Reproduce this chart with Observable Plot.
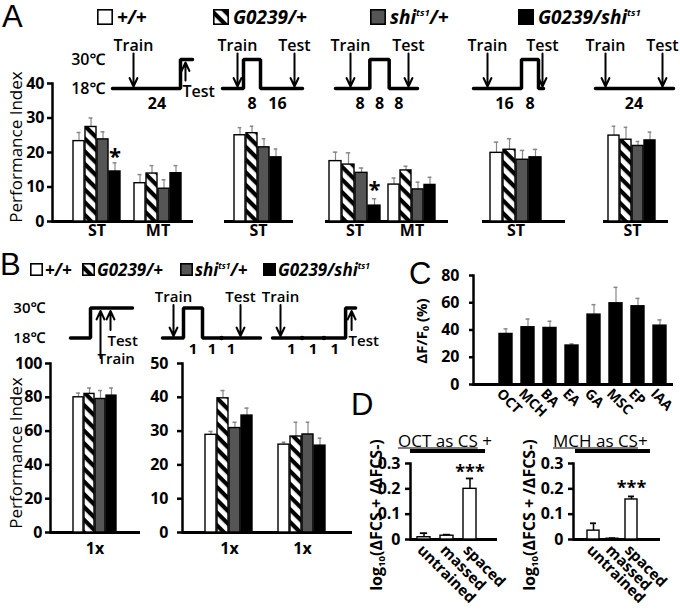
<!DOCTYPE html>
<html>
<head>
<meta charset="utf-8">
<script src="https://cdn.jsdelivr.net/npm/d3@7"></script>
<script src="https://cdn.jsdelivr.net/npm/@observablehq/plot@0.6"></script>
<style>
html,body{margin:0;padding:0;background:#fff;}
#fig{position:relative;width:680px;height:610px;overflow:hidden;background:#fff;color:#000;}
#fig svg.layer{position:absolute;left:0;top:0;background:transparent!important;overflow:visible;}
.lbl{position:absolute;white-space:nowrap;line-height:1;color:#000;}
.lbl sup{font-size:0.5em;vertical-align:0.8em;line-height:0;}
.lbl sub{font-size:0.6em;vertical-align:-0.3em;line-height:0;}
</style>
</head>
<body>
<div id="fig">
<svg width="0" height="0" style="position:absolute">
  <defs>
    <pattern id="hatch" patternUnits="userSpaceOnUse" width="9" height="9" patternTransform="rotate(45)">
      <rect width="9" height="9" fill="#fff"/>
      <rect width="9" height="4.2" fill="#000"/>
    </pattern>
  </defs>
</svg>
</div>
<script>
// ================= DATA =================
const genotypes = ["+/+", "G0239/+", "shi/+", "G0239/shi"];
const genotypeLabels = ["+/+", "G0239/+", "shi<sup>ts1</sup>/+", "G0239/shi<sup>ts1</sup>"];
const genotypeFills = ["#ffffff", "url(#hatch)", "#555555", "#000000"];
const temps = [18, 30];

// Panel A: performance index (mean, SEM)
const A1_ST = [23.3, 27.4, 23.8, 14.5], A1_ST_sem = [2.5, 2.6, 2.2, 2.5], A1_ST_sig = ["", "", "", "*"];
const A1_MT = [11.1, 13.9, 9.5, 14.0], A1_MT_sem = [2.5, 2.3, 2.6, 2.2];
const A2_ST = [25.0, 25.6, 21.5, 18.6], A2_ST_sem = [2.2, 2.0, 2.5, 2.4];
const A3_ST = [17.5, 16.5, 14.1, 4.6], A3_ST_sem = [2.6, 3.4, 1.4, 2.0], A3_ST_sig = ["", "", "", "*"];
const A3_MT = [10.7, 14.8, 9.3, 10.6], A3_MT_sem = [1.9, 1.2, 2.1, 2.2];
const A4_ST = [19.9, 20.8, 17.9, 18.6], A4_ST_sem = [3.1, 3.2, 2.7, 2.3];
const A5_ST = [24.9, 23.7, 21.9, 23.5], A5_ST_sem = [2.7, 3.6, 1.3, 2.4];
const aTicks = [0, 10, 20, 30, 40];

// Panel A protocols: phases after training [hours, °C]
const A1_phases = [[24, 18]], A1_train = 18, A1_test = 30;
const A2_phases = [[8, 30], [16, 18]], A2_train = 18, A2_test = 18;
const A3_phases = [[8, 18], [8, 30], [8, 18]], A3_train = 18, A3_test = 18;
const A4_phases = [[16, 18], [8, 30]], A4_train = 18, A4_test = 18;
const A5_phases = [[24, 18]], A5_train = 18, A5_test = 18;

// Panel B
const B1_1x = [80, 82, 79, 81], B1_sem = [2.5, 3.5, 5.0, 4.5];
const B2_1x = [28.9, 39.7, 30.9, 34.6], B2_sem = [1.0, 2.3, 1.7, 2.2];
const B3_1x = [26.0, 28.4, 29.0, 25.7], B3_sem = [0.7, 4.2, 3.6, 2.2];
const b1Ticks = [0, 20, 40, 60, 80, 100];
const b2Ticks = [0, 10, 20, 30, 40, 50];
const B1_phases = [], B1_train = 30, B1_test = 30;
const B2_phases = [[1, 30], [1, 18], [1, 18]], B2_train = 18, B2_test = 18;
const B3_phases = [[1, 18], [1, 18], [1, 18]], B3_train = 18, B3_test = 30;

// Panel C
const odors = ["OCT", "MCH", "BA", "EA", "GA", "MSC", "EP", "IAA"];
const cResp = [37.1, 42.0, 41.5, 28.6, 51.3, 59.6, 57.4, 43.2];
const cSem = [3.7, 6.0, 4.9, 1.2, 7.3, 11.7, 5.8, 4.2];
const cTicks = [0, 20, 40, 60, 80];

// Panel D
const conditions = ["untrained", "massed", "spaced"];
const dOCT = [0.009, 0.015, 0.200], dOCT_sem = [0.016, 0.004, 0.041], dOCT_sig = ["", "", "***"];
const dMCH = [0.035, 0.003, 0.158], dMCH_sem = [0.029, 0.002, 0.012], dMCH_sig = ["", "", "***"];
const dTicks = [0, 0.1, 0.2, 0.3];

// ================= HELPERS =================
const FONT = '"Open Sans","Noto Sans","DejaVu Sans",sans-serif';
const W = 680, H = 610;
const fig = document.getElementById("fig");
const fillOf = Object.fromEntries(genotypes.map((g, i) => [g, genotypeFills[i]]));

function overlay(frame, opts, style = {}) {
  const svg = Plot.plot({
    width: W, height: H,
    marginLeft: frame.x0, marginRight: W - frame.x1,
    marginTop: frame.y0, marginBottom: H - frame.y1,
    style: Object.assign({background: "transparent", overflow: "visible", fontFamily: FONT,
      fontSize: "16px", fontWeight: "bold", color: "#000"}, style),
    ...opts
  });
  svg.classList.add("layer");
  fig.appendChild(svg);
  return svg;
}

function rowsOf(cats, means, sems, sigs) {
  return cats.map((c, i) => ({cat: c, mean: means[i], sem: sems[i], sig: sigs ? sigs[i] : ""}));
}

function axes({x0, x1, yBottom, yTop, max, ticks, size = 5, gap = 8}) {
  overlay({x0, x1, y0: yTop, y1: yBottom}, {
    x: {domain: [0, 1], axis: null},
    y: ticks
      ? {domain: [0, max], ticks, tickSize: size, tickPadding: gap - size, line: true, label: null, tickFormat: d => String(d)}
      : {domain: [0, max], axis: null},
    marks: [Plot.ruleY([0], {strokeWidth: 3})]
  }, {strokeWidth: "2.5px"});
}

function bars(rows, o) {
  const {x0, x1, yBottom, yTop, max, pi = 0.08, fill, strokeWidth = 1.4,
         errColor = "#888", errWidth = 1.2, capHalf = 2.2, label, labelDy = 9,
         sigSize = 22, sigDy = -6, xLabels} = o;
  const n = rows.length;
  const step = (x1 - x0) / (n - pi);
  const bw = step * (1 - pi);
  const inset = Math.max(0, bw / 2 - capHalf);
  const marks = [
    Plot.ruleX(rows, {x: "cat", y1: "mean", y2: d => d.mean + d.sem, stroke: errColor, strokeWidth: errWidth}),
    Plot.tickY(rows, {x: "cat", y: d => d.mean + d.sem, stroke: errColor, strokeWidth: errWidth + 0.3, insetLeft: inset, insetRight: inset}),
    Plot.barY(rows, {x: "cat", y: "mean", fill: typeof fill === "function" ? fill : () => fill, stroke: "black", strokeWidth}),
    Plot.text(rows.filter(d => d.sig), {x: "cat", y: d => d.mean + d.sem, text: "sig", dy: sigDy, fontSize: sigSize, lineAnchor: "middle"})
  ];
  if (label) marks.push(Plot.text([label], {text: d => d, frameAnchor: "bottom", dy: labelDy, lineAnchor: "middle", fontSize: 16}));
  if (xLabels) marks.push(Plot.text(rows, {x: "cat", text: "cat", frameAnchor: "bottom", rotate: 45,
    textAnchor: "start", lineAnchor: "top", fontSize: 15, ...xLabels}));
  overlay({x0, x1, y0: yTop, y1: yBottom}, {
    x: {domain: rows.map(d => d.cat), paddingInner: pi, paddingOuter: 0, axis: null},
    y: {domain: [0, max], axis: null},
    color: {type: "identity"},
    marks
  });
}

function schematic(phases, trainTemp, testTemp, L, S) {
  const total = d3.sum(phases, p => p[0]);
  const tMin = -L.lead / L.pxh, tMax = total + L.tail / L.pxh;
  const profile = [{t: tMin, temp: 18}];
  let c = 0;
  for (const [h, temp] of phases) { profile.push({t: c, temp}); c += h; }
  profile.push({t: total, temp: testTemp}, {t: tMax, temp: testTemp});
  const durs = []; c = 0;
  for (const [h] of phases) { durs.push({t: c + h / 2, h}); c += h; }
  const dots = []; c = 0;
  phases.forEach(([h, temp], i) => { c += h; if (i < phases.length - 1 && phases[i + 1][1] === temp) dots.push({t: c, temp}); });
  const events = [
    {name: "Train", t: 0, temp: trainTemp, dx: L.dxTrain || 0},
    {name: "Test", t: total, temp: testTemp, dx: L.dxTest || 0}
  ];
  const marks = [Plot.line(profile, {x: "t", y: "temp", curve: "step-after", strokeWidth: 3.5, strokeLinejoin: "miter"})];
  for (const e of events) {
    if (e.temp === 18) {
      marks.push(Plot.arrow([e], {x1: "t", x2: "t", y1: () => 30, y2: () => 18, dx: e.dx,
        insetStart: -S.arrowTop, insetEnd: 2, strokeWidth: 2, headLength: 7, headAngle: 50}));
      marks.push(Plot.text([e], {x: "t", y: () => 30, text: "name", dx: e.dx, dy: S.labelAbove, lineAnchor: "middle"}));
    } else {
      const isTrain = e.name === "Train";
      marks.push(Plot.arrow([e], {x1: "t", x2: "t", y1: () => 18, y2: () => 30, dx: e.dx,
        insetStart: isTrain ? -20 : 8, insetEnd: 3, strokeWidth: 2, headLength: 7, headAngle: 50}));
      marks.push(Plot.text([e], {x: "t", y: () => 18, text: "name", dx: e.dx - 3, dy: isTrain ? 21 : 3,
        textAnchor: "start", lineAnchor: "middle"}));
    }
  }
  marks.push(Plot.dot(dots, {x: "t", y: "temp", r: 2.3, fill: "black"}));
  marks.push(Plot.text(durs, {x: "t", y: () => 18, text: d => String(d.h), dy: S.numDy, lineAnchor: "middle", fontWeight: "bold"}));
  overlay({x0: L.t0 - L.lead, x1: L.t0 + total * L.pxh + L.tail, y0: S.y30, y1: S.y18}, {
    x: {domain: [tMin, tMax], axis: null},
    y: L.axis
      ? {domain: [18, 30], ticks: temps, tickFormat: d => `${d}℃`, tickSize: 0, tickPadding: L.axisPad, label: null}
      : {domain: [18, 30], axis: null},
    marks
  }, {fontWeight: "600", fontSize: S.fontSize + "px"});
}

function label(html, x, y, o = {}) {
  const d = document.createElement("div");
  d.className = "lbl";
  d.innerHTML = html;
  const ax = o.anchor === "middle" ? "-50%" : o.anchor === "end" ? "-100%" : "0";
  d.style.left = x + "px";
  d.style.top = y + "px";
  d.style.fontFamily = o.family || FONT;
  d.style.fontSize = (o.size || 15) + "px";
  d.style.fontWeight = o.weight || "bold";
  d.style.fontStyle = o.italic ? "italic" : "normal";
  d.style.transform = o.rotate ? `translate(-50%,-50%) rotate(${o.rotate}deg)` : `translate(${ax},-50%)`;
  fig.appendChild(d);
  return d;
}

function swatch(x, y, size, fill) {
  const d = document.createElement("div");
  d.className = "lbl";
  d.style.left = x + "px"; d.style.top = y + "px";
  d.innerHTML = `<svg width="${size}" height="${size}" style="display:block"><rect x="0.8" y="0.8" width="${size - 1.6}" height="${size - 1.6}" fill="${fill}" stroke="#000" stroke-width="1.6"/></svg>`;
  fig.appendChild(d);
}

// ================= PANEL A =================
const A = {yBottom: 221, yTop: 83, max: 40};
axes({x0: 52, x1: 193, ...A, ticks: aTicks});
axes({x0: 224, x1: 293, ...A});
axes({x0: 325, x1: 448, ...A});
axes({x0: 482, x1: 565, ...A});
axes({x0: 603, x1: 668, ...A});
const gf = d => fillOf[d.cat];
bars(rowsOf(genotypes, A1_ST, A1_ST_sem, A1_ST_sig), {x0: 72, x1: 121, ...A, fill: gf, label: "ST"});
bars(rowsOf(genotypes, A1_MT, A1_MT_sem), {x0: 133, x1: 182, ...A, fill: gf, label: "MT"});
bars(rowsOf(genotypes, A2_ST, A2_ST_sem), {x0: 233, x1: 283, ...A, fill: gf, label: "ST"});
bars(rowsOf(genotypes, A3_ST, A3_ST_sem, A3_ST_sig), {x0: 329, x1: 380, ...A, fill: gf, label: "ST", sigDy: -9});
bars(rowsOf(genotypes, A3_MT, A3_MT_sem), {x0: 387, x1: 436, ...A, fill: gf, label: "MT"});
bars(rowsOf(genotypes, A4_ST, A4_ST_sem), {x0: 490, x1: 541, ...A, fill: gf, label: "ST"});
bars(rowsOf(genotypes, A5_ST, A5_ST_sem), {x0: 607, x1: 657, ...A, fill: gf, label: "ST"});

const SA = {y18: 88, y30: 59, labelAbove: -14, numDy: 15, arrowTop: 6, fontSize: 16};
schematic(A1_phases, A1_train, A1_test, {t0: 133, pxh: 1.958, lead: 21, tail: 12, dxTest: 5, axis: true, axisPad: 7}, SA);
schematic(A2_phases, A2_train, A2_test, {t0: 243, pxh: 2.125, lead: 21, tail: 8, dxTrain: -6}, SA);
schematic(A3_phases, A3_train, A3_test, {t0: 350, pxh: 2.417, lead: 15, tail: 9}, SA);
schematic(A4_phases, A4_train, A4_test, {t0: 487, pxh: 2.125, lead: 14, tail: 5, dxTest: 4}, SA);
schematic(A5_phases, A5_train, A5_test, {t0: 605, pxh: 2.375, lead: 10, tail: 11}, SA);

// ================= PANEL B =================
const B1 = {yBottom: 532, yTop: 363, max: 100};
const B2 = {yBottom: 532, yTop: 363, max: 50};
axes({x0: 50, x1: 140, ...B1, ticks: b1Ticks});
axes({x0: 182, x1: 352, ...B2, ticks: b2Ticks, gap: 14});
bars(rowsOf(genotypes, B1_1x, B1_sem), {x0: 72, x1: 117, ...B1, fill: gf, label: "1x", labelDy: 16});
bars(rowsOf(genotypes, B2_1x, B2_sem), {x0: 205, x1: 253, ...B2, fill: gf, label: "1x", labelDy: 16});
bars(rowsOf(genotypes, B3_1x, B3_sem), {x0: 277, x1: 327, ...B2, fill: gf, label: "1x", labelDy: 16});

const SB = {y18: 337.5, y30: 307.5, labelAbove: -10.5, numDy: 11, arrowTop: 3, fontSize: 15};
schematic(B1_phases, B1_train, B1_test, {t0: 90, pxh: 20, lead: 20, tail: 42, dxTrain: 10, dxTest: 20, axis: true, axisPad: 25}, SB);
schematic(B2_phases, B2_train, B2_test, {t0: 183, pxh: 19, lead: 21, tail: 20, dxTrain: -10}, SB);
schematic(B3_phases, B3_train, B3_test, {t0: 280, pxh: 21.7, lead: 8, tail: 10, dxTest: 6}, SB);

// ================= PANEL C =================
const C = {yBottom: 384, yTop: 275, max: 80};
axes({x0: 473, x1: 673, ...C, ticks: cTicks, size: 4, gap: 14});
bars(rowsOf(odors, cResp, cSem), {x0: 498.5, x1: 666, ...C, pi: 0.41, fill: "black", capHalf: 2, xLabels: {dy: 3, dx: -3, fontSize: 14}});

// ================= PANEL D =================
const D = {yBottom: 539, yTop: 463, max: 0.3};
axes({x0: 410, x1: 497, ...D, ticks: dTicks, gap: 10});
axes({x0: 573, x1: 660, ...D, ticks: dTicks, gap: 10});
bars(rowsOf(conditions, dOCT, dOCT_sem, dOCT_sig), {x0: 416, x1: 477, ...D, pi: 0.42, fill: "white",
  errColor: "black", errWidth: 1.5, capHalf: 4, sigSize: 18, sigDy: -6, xLabels: {dy: 4}});
bars(rowsOf(conditions, dMCH, dMCH_sem, dMCH_sig), {x0: 587, x1: 637, ...D, pi: 0.37, fill: "white",
  errColor: "black", errWidth: 1.5, capHalf: 3, sigSize: 18, sigDy: -8, xLabels: {dy: 4}});

// ================= TEXT: letters, legends, axis titles =================
const LET = {family: '"Liberation Sans", Arial, sans-serif', size: 31, weight: "normal"};
label("A", 2, 16, LET);
label("B", 0, 264, LET);
label("C", 409, 273, LET);
label("D", 351, 404, LET);

// Legend A
const legA = [97, 213, 370, 518];
genotypes.forEach((g, i) => {
  swatch(legA[i], 9, 16, genotypeFills[i]);
  label(genotypeLabels[i], legA[i] + 20, 17, {size: 19, italic: true});
});
// Legend B
const legB = [30, 82, 180, 263];
genotypes.forEach((g, i) => {
  swatch(legB[i], 263, 13, genotypeFills[i]);
  label(genotypeLabels[i], legB[i] + 15, 269, {size: 17, italic: true});
});

label("Performance Index", 15, 147, {size: 17, weight: "normal", rotate: -90});
label("Performance Index", 15, 453, {size: 17, weight: "normal", rotate: -90});
label("ΔF/F<sub>0</sub> (%)", 421, 331, {size: 15, rotate: -90});
label("log<sub>10</sub>(ΔFCS + /ΔFCS-)", 376, 515, {size: 16, rotate: -90});
label("log<sub>10</sub>(ΔFCS + /ΔFCS-)", 529, 515, {size: 16, rotate: -90});

// Panel D titles
label("<u>OCT as CS</u> +", 398, 440, {size: 17, weight: "normal"});
label("<u>MCH as CS</u>+", 553, 440, {size: 17, weight: "normal"});
for (const [x, w] of [[410, 75], [575, 75]]) {
  const bar = document.createElement("div");
  bar.style.cssText = `position:absolute;left:${x}px;top:449px;width:${w}px;height:4px;background:#000;`;
  fig.appendChild(bar);
}
</script>
</body>
</html>
